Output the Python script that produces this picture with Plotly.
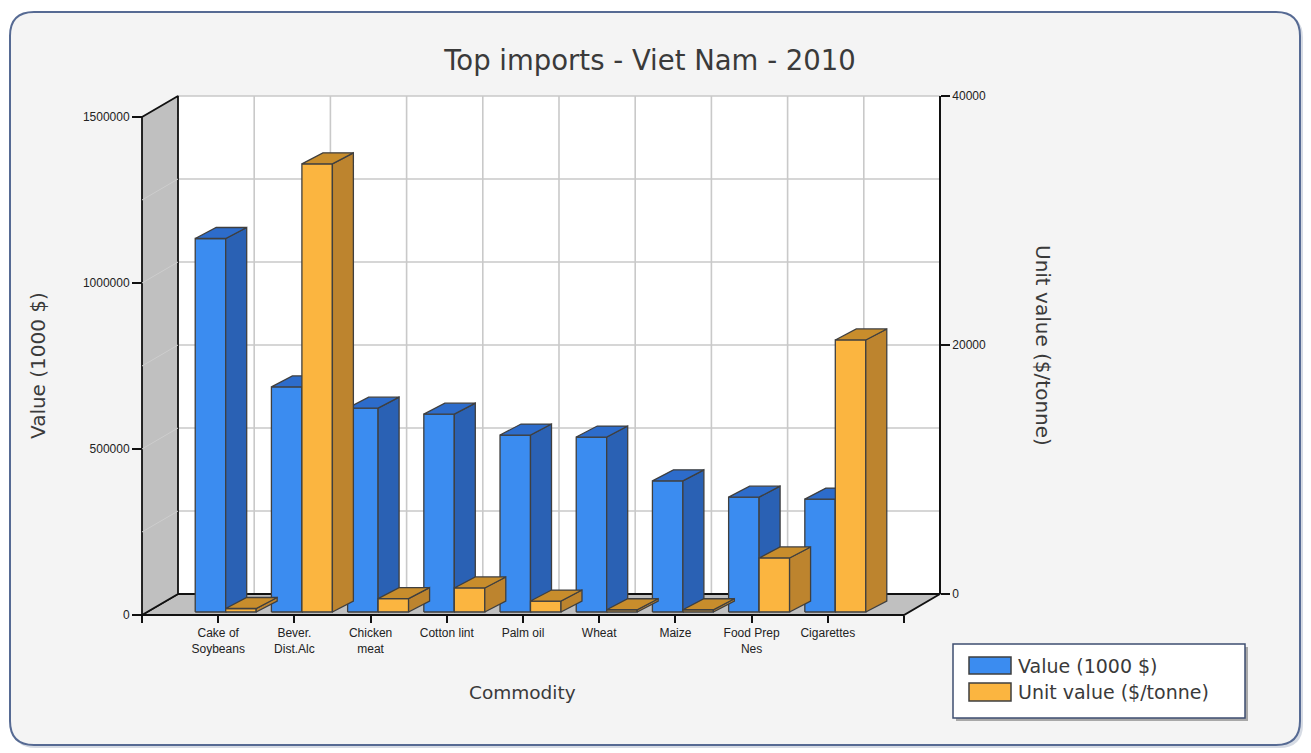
import plotly.graph_objects as go

# ---- data -------------------------------------------------------------
categories = ["Cake of<br>Soybeans", "Bever.<br>Dist.Alc", "Chicken<br>meat",
              "Cotton lint", "Palm oil", "Wheat", "Maize",
              "Food Prep<br>Nes", "Cigarettes"]
value_k_usd = [1125000, 678000, 614000, 596000, 533000, 527000, 395000, 346000, 340000]
unit_value = [280, 36000, 1080, 1930, 880, 180, 180, 4340, 21850]
left_ticks = [0, 500000, 1000000, 1500000]
right_ticks = [0, 20000, 40000]
LEFT_MAX = 1500000
RIGHT_MAX = 40000

# ---- geometry of the pseudo-3D box (pixels) ----------------------------
W, H = 1311, 753
FRONT_L, FRONT_B = 142, 615          # front-left corner of the floor
CAT_PX = 76.2                        # width of one category slot
N_SLOTS = len(categories) + 1
DEPTH = (36, 21)                     # wall depth offset (right, up)
SPAN = 498                           # pixel height of the value scale
PAD = 4
PL = FRONT_L - PAD
PR = FRONT_L + N_SLOTS * CAT_PX + DEPTH[0] + PAD
PT = FRONT_B - DEPTH[1] - SPAN - PAD
PB = FRONT_B + PAD
PW, PH = PR - PL, PB - PT

BAR_W = 0.4                          # category units per bar
BAR_FRONT = (7.5, 3)                 # bar front face offset
BAR_DEPTH = (21, 11)                 # bar depth (top / side faces)

s1 = LEFT_MAX / SPAN
s2 = RIGHT_MAX / SPAN


def dx(px):
    return px / CAT_PX


def dy(px, scale):
    return px * scale


def px2x(p):
    return (p - PL) / PW


def py2y(p):
    return (PB - p) / PH


BLUE = dict(front="#3b8cf0", top="#2d6ccb", side="#2a61b4")
ORANGE = dict(front="#fbb540", top="#c88d2c", side="#bd842e")
EDGE = "#3f3f3f"

fig = go.Figure()


def poly(xs, ys, fill, line, width=1.5, yaxis="y"):
    fig.add_trace(go.Scatter(
        x=list(xs) + [xs[0]], y=list(ys) + [ys[0]], mode="lines",
        fill="toself", fillcolor=fill, line=dict(color=line, width=width),
        hoverinfo="skip", showlegend=False, yaxis=yaxis))


def seg(xs, ys, color, width):
    fig.add_trace(go.Scatter(x=xs, y=ys, mode="lines",
                             line=dict(color=color, width=width),
                             hoverinfo="skip", showlegend=False))


ddx, ddy = dx(DEPTH[0]), dy(DEPTH[1], s1)
xmax = N_SLOTS

# back wall
poly([ddx, xmax + ddx, xmax + ddx, ddx], [ddy, ddy, LEFT_MAX + ddy, LEFT_MAX + ddy],
     "#ffffff", "rgba(0,0,0,0)", 0)
grid_vals = [LEFT_MAX * k / 6 for k in range(1, 7)]
for v in grid_vals:
    seg([ddx, xmax + ddx], [v + ddy, v + ddy], "#c9c9c9", 1.6)
for k in range(1, N_SLOTS):
    seg([k + ddx, k + ddx], [ddy, LEFT_MAX + ddy], "#c9c9c9", 1.6)

# floor and left wall
poly([0, xmax, xmax + ddx, ddx], [0, 0, ddy, ddy], "#c0c0c0", "#111111", 1.8)
poly([0, 0, ddx, ddx], [0, LEFT_MAX, LEFT_MAX + ddy, ddy], "#c0c0c0", "#111111", 1.8)
for v in grid_vals[:-1]:
    seg([0, ddx], [v, v + ddy], "#cdcdcd", 1)


def bar3d(x0, x1, v, scale, colors, yaxis):
    fx, fy = dx(BAR_FRONT[0]), dy(BAR_FRONT[1], scale)
    bx, by = dx(BAR_DEPTH[0]), dy(BAR_DEPTH[1], scale)
    a, b = x0 + fx, x1 + fx
    y0, y1 = fy, v + fy
    poly([a, b, b, a], [y0, y0, y1, y1], colors["front"], EDGE, 1.3, yaxis)
    poly([b, b + bx, b + bx, b], [y0, y0 + by, y1 + by, y1], colors["side"], EDGE, 1.3, yaxis)
    poly([a, b, b + bx, a + bx], [y1, y1, y1 + by, y1 + by], colors["top"], EDGE, 1.3, yaxis)


for i, (v1, v2) in enumerate(zip(value_k_usd, unit_value)):
    c = i + 1
    bar3d(c - BAR_W, c, v1, s1, BLUE, "y")
    bar3d(c, c + BAR_W, v2, s2, ORANGE, "y2")

# dummy trace so the right-hand axis is rendered
fig.add_trace(go.Scatter(x=[None], y=[None], yaxis="y3", showlegend=False,
                         hoverinfo="skip"))

tick_font = dict(family="Liberation Sans, Arial, sans-serif", size=12, color="#222222")
title_font = dict(family="DejaVu Sans, Verdana, sans-serif", color="#3a3a3a")

fig.update_layout(
    width=W, height=H,
    margin=dict(l=PL, r=W - PR, t=PT, b=H - PB, pad=0),
    paper_bgcolor="#ffffff", plot_bgcolor="rgba(0,0,0,0)",
    showlegend=False,
    title=dict(text="Top imports - Viet Nam - 2010", xref="container",
               x=650 / W, xanchor="center", y=1 - 60 / H, yanchor="middle",
               font=dict(size=27.5, **title_font)),
    xaxis=dict(range=[-PAD / CAT_PX, (PR - FRONT_L) / CAT_PX],
               anchor="free", position=PAD / PH,
               tickvals=list(range(0, N_SLOTS + 1)),
               ticktext=[""] + categories + [""],
               ticks="outside", ticklen=7, tickwidth=1.5, tickcolor="#111111",
               showgrid=False, zeroline=False, showline=False,
               tickfont=tick_font, fixedrange=True),
    yaxis=dict(range=[-PAD * s1, (FRONT_B - PT) * s1],
               anchor="free", position=PAD / PW,
               tickvals=left_ticks, ticktext=[str(t) for t in left_ticks],
               ticks="outside", ticklen=10, tickwidth=1.5, tickcolor="#111111",
               showgrid=False, zeroline=False, showline=False,
               tickfont=tick_font, fixedrange=True),
    yaxis2=dict(range=[-PAD * s2, (FRONT_B - PT) * s2], overlaying="y",
                visible=False, fixedrange=True),
    yaxis3=dict(range=[0, RIGHT_MAX], anchor="free", side="right",
                position=(FRONT_L + N_SLOTS * CAT_PX + DEPTH[0] - PL) / PW,
                domain=[py2y(FRONT_B - DEPTH[1]), py2y(FRONT_B - DEPTH[1] - SPAN)],
                tickvals=right_ticks, ticktext=[str(t) for t in right_ticks],
                ticks="outside", ticklen=9, tickwidth=1.5, tickcolor="#111111",
                showline=True, linecolor="#111111", linewidth=1.8,
                showgrid=False, zeroline=False,
                tickfont=tick_font, fixedrange=True),
)

# rounded panel behind the chart
def rounded(x0, y0, x1, y1, r):
    X = px2x
    Y = py2y
    return (f"M {X(x0 + r)} {Y(y0)} L {X(x1 - r)} {Y(y0)} Q {X(x1)} {Y(y0)} {X(x1)} {Y(y0 + r)} "
            f"L {X(x1)} {Y(y1 - r)} Q {X(x1)} {Y(y1)} {X(x1 - r)} {Y(y1)} "
            f"L {X(x0 + r)} {Y(y1)} Q {X(x0)} {Y(y1)} {X(x0)} {Y(y1 - r)} "
            f"L {X(x0)} {Y(y0 + r)} Q {X(x0)} {Y(y0)} {X(x0 + r)} {Y(y0)} Z")


shapes = [
    dict(type="path", xref="paper", yref="paper", layer="below",
         path=rounded(12, 14, 1303, 748, 24), fillcolor="#d6dbe4",
         line=dict(width=0)),
    dict(type="path", xref="paper", yref="paper", layer="below",
         path=rounded(10, 12, 1300, 745, 24), fillcolor="#f4f4f4",
         line=dict(color="#566a93", width=2)),
]

# legend box
LX0, LY0, LX1, LY1 = 953, 644, 1245, 718
shapes += [
    dict(type="rect", xref="paper", yref="paper", layer="above",
         x0=px2x(LX0 + 3), x1=px2x(LX1 + 3), y0=py2y(LY0 + 3), y1=py2y(LY1 + 3),
         fillcolor="#a8a8a8", line=dict(width=0)),
    dict(type="rect", xref="paper", yref="paper", layer="above",
         x0=px2x(LX0), x1=px2x(LX1), y0=py2y(LY0), y1=py2y(LY1),
         fillcolor="#ffffff", line=dict(color="#3e4e70", width=1.5)),
]
legend_items = [("Value (1000 $)", BLUE["front"], 657, 674),
                ("Unit value ($/tonne)", ORANGE["front"], 683, 701)]
annotations = []
for label, color, t, b in legend_items:
    shapes.append(dict(type="rect", xref="paper", yref="paper", layer="above",
                       x0=px2x(969), x1=px2x(1011), y0=py2y(b), y1=py2y(t),
                       fillcolor=color, line=dict(color="#3f3f3f", width=1.5)))
    annotations.append(dict(text=label, xref="paper", yref="paper",
                            x=px2x(1016), y=py2y((t + b) / 2), xanchor="left",
                            yanchor="middle", showarrow=False,
                            font=dict(size=19, **title_font)))

annotations += [
    dict(text="Value (1000 $)", xref="paper", yref="paper", x=px2x(38), y=py2y(366),
         textangle=-90, showarrow=False, xanchor="center", yanchor="middle",
         font=dict(size=20, **title_font)),
    dict(text="Unit value ($/tonne)", xref="paper", yref="paper", x=px2x(1043), y=py2y(345),
         textangle=90, showarrow=False, xanchor="center", yanchor="middle",
         font=dict(size=20, **title_font)),
    dict(text="Commodity", xref="paper", yref="paper", x=px2x(522), y=py2y(692),
         showarrow=False, xanchor="center", yanchor="middle",
         font=dict(size=18.5, **title_font)),
]
fig.update_layout(shapes=shapes, annotations=annotations)

fig.write_html("out.html")
